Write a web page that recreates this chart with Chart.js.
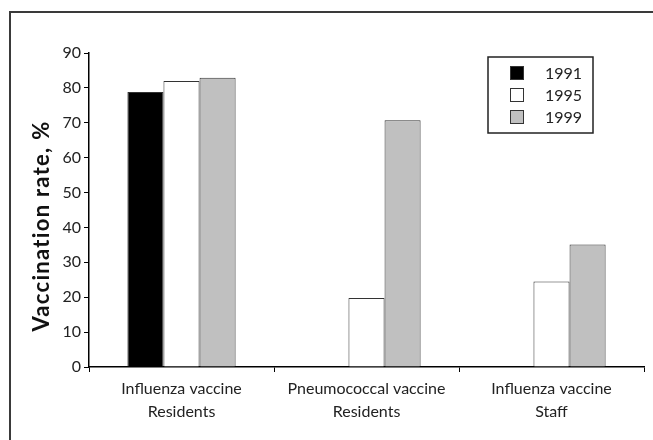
<!DOCTYPE html>
<html>
<head>
<meta charset="utf-8">
<script src="https://cdn.jsdelivr.net/npm/chart.js@4"></script>
<style>
  html, body { margin: 0; padding: 0; background: #fff; overflow: hidden; }
  #wrap { position: relative; width: 653px; height: 440px; }
  #frame {
    position: absolute; left: 9px; top: 11px; width: 700px; height: 500px;
    border: 2px solid #3a3a3a; pointer-events: none;
  }
  canvas { position: absolute; left: 0; top: 0; }
</style>
</head>
<body>
<div id="wrap">
  <canvas id="barChart" width="653" height="440"></canvas>
  <div id="frame"></div>
</div>
<script>
// Data
const categories = [
    ['Influenza vaccine', 'Residents'],
    ['Pneumococcal vaccine', 'Residents'],
    ['Influenza vaccine', 'Staff']
];
const years = ['1991', '1995', '1999'];
const rates1991 = [78.8, null, null];
const rates1995 = [82.0, 19.8, 24.5];
const rates1999 = [82.9, 70.7, 35.1];
const yTicks = [0, 10, 20, 30, 40, 50, 60, 70, 80, 90];

const fills = ['#000000', '#ffffff', '#c0c0c0'];
const fontFamily = 'Lato, "Open Sans", sans-serif';

// Legend box inside the plot, top right
const boxLegend = {
    id: 'boxLegend',
    afterDraw(chart) {
        const ctx = chart.ctx;
        const area = chart.chartArea;
        const x0 = area.right - 156;
        const y0 = area.top + 4;
        ctx.save();
        ctx.strokeStyle = '#222';
        ctx.lineWidth = 1.5;
        ctx.strokeRect(x0, y0, 105, 76);
        ctx.font = '16px ' + fontFamily;
        ctx.textBaseline = 'middle';
        ctx.textAlign = 'left';
        chart.data.datasets.forEach((ds, i) => {
            const cy = y0 + 16 + i * 22;
            ctx.fillStyle = ds.backgroundColor;
            ctx.fillRect(x0 + 22, cy - 7, 14, 14);
            ctx.strokeStyle = '#333';
            ctx.lineWidth = 1;
            ctx.strokeRect(x0 + 22.5, cy - 6.5, 13, 13);
            ctx.fillStyle = '#222';
            ctx.fillText(ds.label, x0 + 57, cy + 1);
        });
        ctx.restore();
    }
};

// Rotated y axis title
const yTitle = {
    id: 'yTitle',
    afterDraw(chart) {
        const ctx = chart.ctx;
        ctx.save();
        ctx.translate(42, 226);
        ctx.rotate(-Math.PI / 2);
        ctx.font = 'bold 22px ' + fontFamily;
        if ('letterSpacing' in ctx) ctx.letterSpacing = '1.3px';
        ctx.fillStyle = '#111';
        ctx.textAlign = 'center';
        ctx.textBaseline = 'middle';
        ctx.fillText('Vaccination rate, %', 0, 0);
        ctx.restore();
    }
};

const barCtx = document.getElementById('barChart').getContext('2d');
const chart = new Chart(barCtx, {
    type: 'bar',
    data: {
        labels: categories,
        datasets: [
            { label: years[0], data: rates1991, backgroundColor: fills[0] },
            { label: years[1], data: rates1995, backgroundColor: fills[1] },
            { label: years[2], data: rates1999, backgroundColor: fills[2] }
        ]
    },
    options: {
        responsive: false,
        animation: false,
        layout: { padding: { left: 0, right: 9, top: 53, bottom: 0 } },
        datasets: {
            bar: {
                categoryPercentage: 0.585,
                barPercentage: 1.0,
                borderWidth: 1,
                borderColor: '#333'
            }
        },
        scales: {
            x: {
                grid: { drawOnChartArea: false, tickLength: 5, color: '#000', offset: true },
                border: { color: '#000', width: 1.5 },
                ticks: {
                    color: '#222',
                    padding: 6,
                    font: { family: fontFamily, size: 16, lineHeight: 1.4 }
                },
                afterFit(scale) { scale.height = 73; }
            },
            y: {
                min: 0,
                max: 90,
                afterBuildTicks(scale) { scale.ticks = yTicks.map(v => ({ value: v })); },
                grid: { drawOnChartArea: false, tickLength: 5, color: '#000' },
                border: { color: '#000', width: 1.5 },
                ticks: {
                    color: '#222',
                    padding: 3,
                    font: { family: fontFamily, size: 16 }
                },
                afterFit(scale) { scale.width = 89; }
            }
        },
        plugins: {
            legend: { display: false },
            tooltip: { enabled: false }
        }
    },
    plugins: [boxLegend, yTitle]
});
</script>
</body>
</html>
